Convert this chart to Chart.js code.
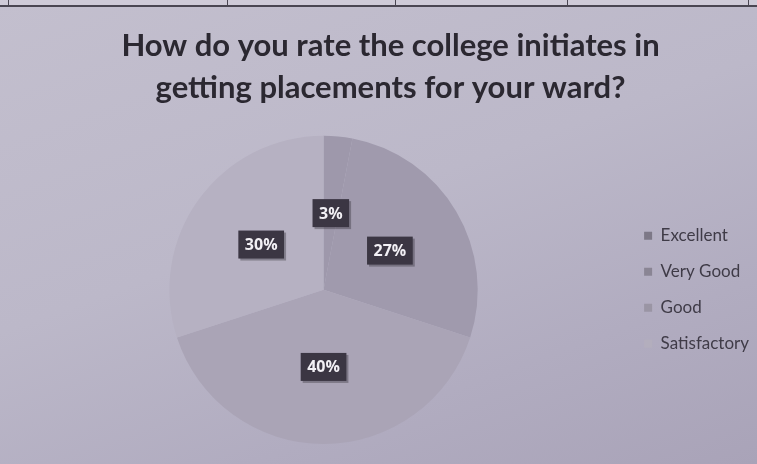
<!DOCTYPE html>
<html>
<head>
<meta charset="utf-8">
<script src="https://cdn.jsdelivr.net/npm/chart.js@4.4.1/dist/chart.umd.min.js"></script>
<style>
  html, body { margin: 0; padding: 0; }
  body {
    width: 757px; height: 464px; overflow: hidden; position: relative;
    background: linear-gradient(160deg, #c3bfce 0%, #bcb8c9 45%, #b1acc0 75%, #a9a3b8 100%);
  }
  #strip {
    position: absolute; left: 0; top: 0; width: 757px; height: 5px;
    background: #cfcbd8; border-bottom: 2px solid #4a4652;
  }
  .vl { position: absolute; top: 0; width: 1px; height: 6px; background: #4a4652; }
  #wrap { position: absolute; left: 0; top: 0; width: 757px; height: 464px; }
</style>
</head>
<body>
<div id="strip"></div>
<div class="vl" style="left:8px"></div>
<div class="vl" style="left:227px"></div>
<div class="vl" style="left:395px"></div>
<div class="vl" style="left:567px"></div>
<div class="vl" style="left:748px"></div>
<div id="wrap"><canvas id="c" width="757" height="464"></canvas></div>
<script>
const titleLines = ["How do you rate the college initiates in", "getting placements for your ward?"];
const categories = ["Excellent", "Very Good", "Good", "Satisfactory"];
const percentages = [3, 27, 40, 30];
const sliceColors = ["#9e98ab", "#a09aad", "#aaa4b6", "#b6b1c2"];
const legendColors = ["#7d7887", "#8a8594", "#9a95a4", "#b3aebd"];

const labelBoxes = {
  id: 'labelBoxes',
  afterDatasetsDraw(chart) {
    const ctx = chart.ctx;
    const meta = chart.getDatasetMeta(0);
    ctx.save();
    ctx.font = 'bold 16px "Open Sans", sans-serif';
    ctx.textAlign = 'center';
    ctx.textBaseline = 'middle';
    meta.data.forEach((arc, i) => {
      const p = arc.getCenterPoint();
      const txt = percentages[i] + '%';
      const w = ctx.measureText(txt).width + 13;
      const h = 28;
      ctx.fillStyle = 'rgba(40,36,46,0.35)';
      ctx.fillRect(p.x - w / 2 + 2, p.y - h / 2 + 2, w, h);
      ctx.fillStyle = '#3b3643';
      ctx.fillRect(p.x - w / 2, p.y - h / 2, w, h);
      ctx.fillStyle = '#f2f0f5';
      ctx.fillText(txt, p.x, p.y + 1);
    });
    ctx.restore();
  }
};

new Chart(document.getElementById('c'), {
  type: 'pie',
  data: {
    labels: categories,
    datasets: [{
      data: percentages,
      backgroundColor: sliceColors,
      borderWidth: 0
    }]
  },
  options: {
    responsive: false,
    animation: false,
    layout: { padding: { left: 22, right: -2, top: 0, bottom: 20 } },
    plugins: {
      tooltip: { enabled: false },
      title: {
        display: true,
        text: titleLines,
        color: '#2b2831',
        font: { family: 'Lato', size: 31, weight: 'bold', lineHeight: 1.35 },
        padding: { top: 25, bottom: 27 }
      },
      legend: {
        position: 'right',
        align: 'center',
        fullSize: false,
        labels: {
          boxWidth: 8,
          boxHeight: 8,
          padding: 19,
          color: '#3f3b47',
          font: { family: 'Lato', size: 17 },
          generateLabels(chart) {
            return categories.map((c, i) => ({
              text: c,
              fillStyle: legendColors[i],
              strokeStyle: legendColors[i],
              lineWidth: 0,
              fontColor: '#3f3b47',
              index: i,
              hidden: false
            }));
          }
        }
      }
    }
  },
  plugins: [labelBoxes]
});
</script>
</body>
</html>
